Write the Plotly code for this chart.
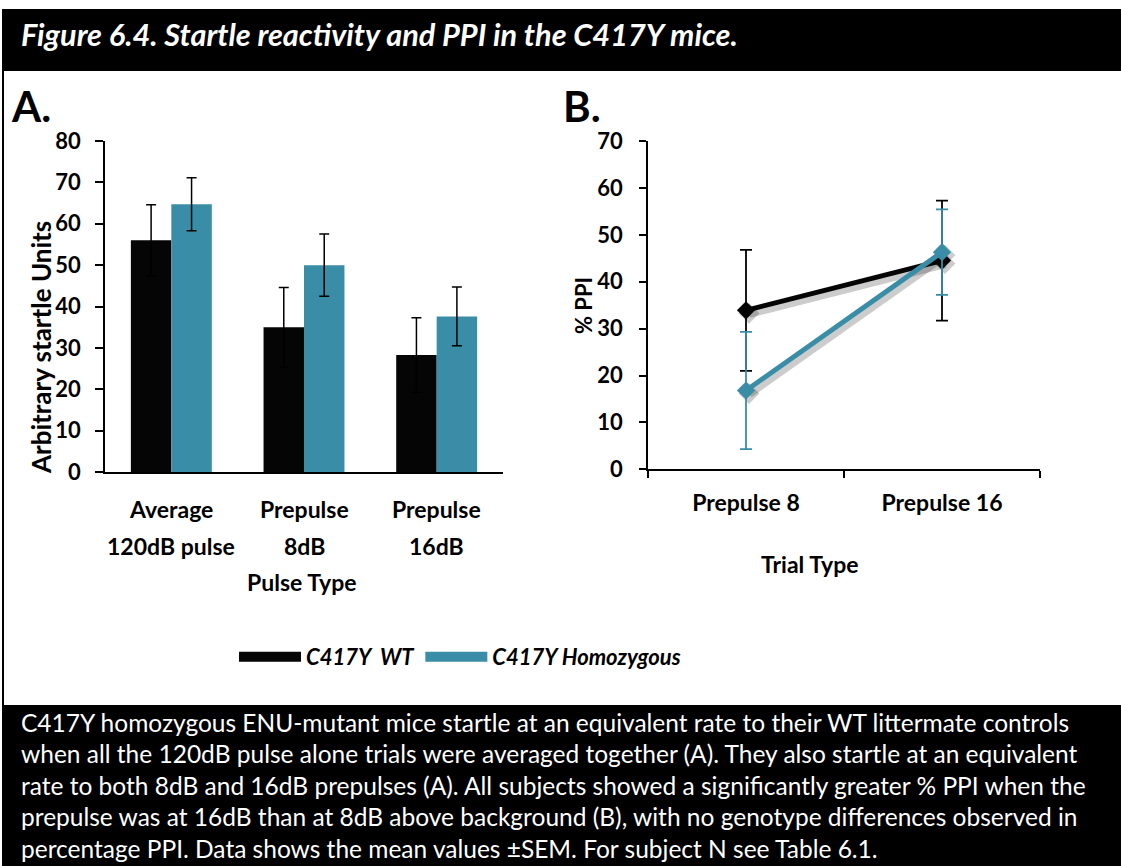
import plotly.graph_objects as go

# ---------------- data ----------------
pulse_types = ["Average<br>120dB pulse", "Prepulse<br>8dB", "Prepulse<br>16dB"]
wt_startle = [56.0, 35.0, 28.3]
wt_startle_sem = [8.6, 9.6, 9.0]
hom_startle = [64.7, 50.0, 37.6]
hom_startle_sem = [6.4, 7.5, 7.1]

trial_types = ["Prepulse 8", "Prepulse 16"]
wt_ppi = [33.9, 44.5]
wt_ppi_sem = [12.9, 12.8]
hom_ppi = [16.8, 46.3]
hom_ppi_sem = [12.5, 9.1]

series_names = ["C417Y\u00a0\u00a0WT", "C417Y Homozygous"]

caption_lines = [
    "C417Y homozygous ENU-mutant mice startle at an equivalent rate to their WT littermate controls",
    "when all the 120dB pulse alone trials were averaged together (A). They also startle at an equivalent",
    "rate to both 8dB and 16dB prepulses (A). All subjects showed a significantly greater % PPI when the",
    "prepulse was at 16dB than at 8dB above background (B), with no genotype differences observed in",
    "percentage PPI. Data shows the mean values \u00b1SEM. For subject N see Table 6.1.",
]

# ---------------- styling ----------------
W, H = 1121, 866
BLACK = "#050505"
TEAL = "#3A8DA6"
FONT = "Lato"


def fx(px):
    return px / W


def fy(py):
    return 1 - py / H


def bfont(size):
    return dict(family=FONT, size=size, color="black", weight="bold")


tick_font = bfont(22)
label_font = bfont(23)

fig = go.Figure()

# Panel A: grouped bars
fig.add_trace(go.Bar(
    x=pulse_types, y=wt_startle, name=series_names[0], showlegend=False,
    marker=dict(color=BLACK, line=dict(width=0)),
    error_y=dict(type="data", array=wt_startle_sem, color="black", thickness=1.5, width=5),
    xaxis="x", yaxis="y",
))
fig.add_trace(go.Bar(
    x=pulse_types, y=hom_startle, name=series_names[1], showlegend=False,
    marker=dict(color=TEAL, line=dict(width=0)),
    error_y=dict(type="data", array=hom_startle_sem, color="black", thickness=1.5, width=5),
    xaxis="x", yaxis="y",
))

# Panel B: soft drop shadow drawn on a slightly offset copy of the axes
for vals in (wt_ppi, hom_ppi):
    fig.add_trace(go.Scatter(
        x=trial_types, y=vals, mode="lines+markers", showlegend=False, hoverinfo="skip",
        line=dict(color="rgba(0,0,0,0.2)", width=9),
        marker=dict(symbol="diamond", size=16, color="rgba(0,0,0,0.2)"),
        xaxis="x2", yaxis="y2",
    ))

# Panel B: lines with SEM error bars
fig.add_trace(go.Scatter(
    x=trial_types, y=wt_ppi, mode="lines+markers", showlegend=False,
    line=dict(color=BLACK, width=5),
    marker=dict(symbol="diamond", size=14, color=BLACK),
    error_y=dict(type="data", array=wt_ppi_sem, color="black", thickness=1.8, width=6),
    xaxis="x3", yaxis="y3",
))
fig.add_trace(go.Scatter(
    x=trial_types, y=hom_ppi, mode="lines+markers", showlegend=False,
    line=dict(color=TEAL, width=5),
    marker=dict(symbol="diamond", size=14, color=TEAL),
    error_y=dict(type="data", array=hom_ppi_sem, color=TEAL, thickness=1.8, width=6),
    xaxis="x3", yaxis="y3",
))

# shared legend entries
for name, col in zip(series_names, (BLACK, TEAL)):
    fig.add_trace(go.Scatter(
        x=[None], y=[None], mode="lines", name=name,
        line=dict(color=col, width=10), xaxis="x3", yaxis="y3",
    ))

# axes geometry
a_x = [fx(105), fx(503)]
a_y = [fy(472), fy(141)]
b_x = [fx(648), fx(1040)]
b_y = [fy(469.3), fy(141)]
sh = 3

fig.update_layout(
    width=W, height=H,
    margin=dict(l=0, r=0, t=0, b=0, autoexpand=False),
    paper_bgcolor="white", plot_bgcolor="rgba(0,0,0,0)",
    barmode="group", bargap=0.39, bargroupgap=0,
    font=dict(family=FONT, color="black"),
    xaxis=dict(
        domain=a_x, type="category", range=[-0.5, 2.5], automargin=False,
        showline=True, linecolor="black", linewidth=1.5,
        ticks="", showticklabels=False, showgrid=False, zeroline=False,
    ),
    yaxis=dict(
        domain=a_y, range=[0, 80], dtick=10, automargin=False,
        showline=True, linecolor="black", linewidth=1.5,
        ticks="outside", ticklen=8, tickwidth=1.5, tickcolor="black",
        tickfont=tick_font, ticklabelstandoff=10,
        showgrid=False, zeroline=False,
    ),
    xaxis2=dict(domain=[fx(648 + sh), fx(1040 + sh)], type="category", range=[-0.5, 1.5],
                visible=False, anchor="y2", automargin=False),
    yaxis2=dict(domain=[fy(469.3 + sh), fy(141 + sh)], range=[0, 70], visible=False,
                anchor="x2", automargin=False),
    xaxis3=dict(
        domain=b_x, type="category", range=[-0.5, 1.5], anchor="y3", automargin=False,
        showline=True, linecolor="black", linewidth=1.5,
        ticks="outside", tickson="boundaries", ticklen=7, tickwidth=1.5, tickcolor="black",
        tickfont=label_font, ticklabelstandoff=12,
        showgrid=False, zeroline=False,
    ),
    yaxis3=dict(
        domain=b_y, range=[0, 70], dtick=10, anchor="x3", automargin=False,
        showline=True, linecolor="black", linewidth=1.5,
        ticks="outside", ticklen=7, tickwidth=1.5, tickcolor="black",
        tickfont=tick_font, ticklabelstandoff=12,
        showgrid=False, zeroline=False,
    ),
    legend=dict(
        orientation="h", x=fx(460), xanchor="center", y=fy(657), yanchor="middle",
        font=dict(family=FONT, size=22, color="black", weight="bold", style="italic"),
        itemwidth=62, bgcolor="rgba(0,0,0,0)",
    ),
)

# frame: title band, left rule, caption box
fig.add_shape(type="rect", xref="paper", yref="paper", x0=fx(2), x1=1, y0=fy(71), y1=fy(9),
              fillcolor="black", line=dict(width=0), layer="below")
fig.add_shape(type="line", xref="paper", yref="paper", x0=fx(3), x1=fx(3), y0=fy(705), y1=fy(71),
              line=dict(color="black", width=2))
fig.add_shape(type="rect", xref="paper", yref="paper", x0=fx(2), x1=1, y0=0, y1=fy(705),
              fillcolor="black", line=dict(width=0), layer="below")

ann = []
ann.append(dict(text="Figure 6.4. Startle reactivity and PPI in the C417Y mice.",
                x=fx(19), y=fy(34), xanchor="left", yanchor="middle",
                font=dict(family=FONT, size=30.7, color="white", weight="bold", style="italic")))
ann.append(dict(text="A.", x=fx(9), y=fy(106), xanchor="left", yanchor="middle",
                font=bfont(42)))
ann.append(dict(text="B.", x=fx(561), y=fy(106), xanchor="left", yanchor="middle",
                font=bfont(42)))

# axis titles
ann.append(dict(text="Arbitrary startle Units", x=fx(41), y=fy(348), textangle=-90,
                xanchor="center", yanchor="middle", font=bfont(26)))
ann.append(dict(text="% PPI", x=fx(583), y=fy(306), textangle=-90,
                xanchor="center", yanchor="middle", font=bfont(22)))

# two-line category labels for panel A, placed on the category axis
for cat in pulse_types:
    top, bottom = cat.split("<br>")
    ann.append(dict(text=top, x=cat, xref="x", y=fy(509), xanchor="center", yanchor="middle",
                    font=label_font))
    ann.append(dict(text=bottom, x=cat, xref="x", y=fy(546), xanchor="center", yanchor="middle",
                    font=label_font))
ann.append(dict(text="Pulse Type", x=fx(302), y=fy(582), xanchor="center", yanchor="middle",
                font=label_font))
ann.append(dict(text="Trial Type", x=fx(810), y=fy(564), xanchor="center", yanchor="middle",
                font=label_font))

for i, line in enumerate(caption_lines):
    ann.append(dict(text=line, x=fx(19), y=fy(722 + 31.6 * i), xanchor="left", yanchor="middle",
                    font=dict(family=FONT, size=24.5, color="white")))

for a in ann:
    a.setdefault("xref", "paper")
    a.setdefault("yref", "paper")
    a.setdefault("showarrow", False)
    fig.add_annotation(**a)

fig.write_html("out.html")
